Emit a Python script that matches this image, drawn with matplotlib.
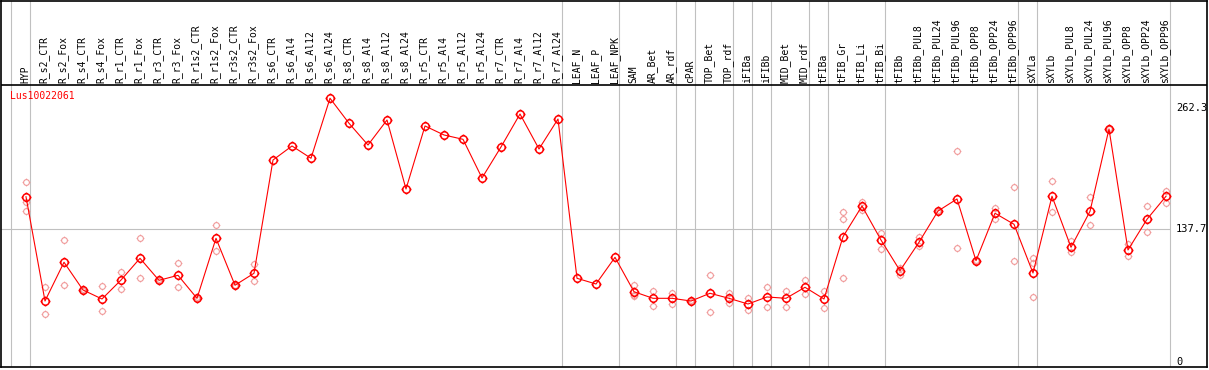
import numpy as np
import matplotlib
matplotlib.use('Agg')
import matplotlib.pyplot as plt
from matplotlib.path import Path

gene = 'Lus10022061'

samples = ['HYP', 'R_s2_CTR', 'R_s2_Fox', 'R_s4_CTR', 'R_s4_Fox', 'R_r1_CTR', 'R_r1_Fox',
           'R_r3_CTR', 'R_r3_Fox', 'R_r1s2_CTR', 'R_r1s2_Fox', 'R_r3s2_CTR', 'R_r3s2_Fox',
           'R_s6_CTR', 'R_s6_Al4', 'R_s6_Al12', 'R_s6_Al24', 'R_s8_CTR', 'R_s8_Al4',
           'R_s8_Al12', 'R_s8_Al24', 'R_r5_CTR', 'R_r5_Al4', 'R_r5_Al12', 'R_r5_Al24',
           'R_r7_CTR', 'R_r7_Al4', 'R_r7_Al12', 'R_r7_Al24', 'LEAF_N', 'LEAF_P', 'LEAF_NPK',
           'SAM', 'AR_Bet', 'AR_rdf', 'cPAR', 'TOP_Bet', 'TOP_rdf', 'iFIBa', 'iFIBb',
           'MID_Bet', 'MID_rdf', 'tFIBa', 'tFIB_Gr', 'tFIB_Li', 'tFIB_Bi', 'tFIBb',
           'tFIBb_PUL8', 'tFIBb_PUL24', 'tFIBb_PUL96', 'tFIBb_OPP8', 'tFIBb_OPP24',
           'tFIBb_OPP96', 'sXYLa', 'sXYLb', 'sXYLb_PUL8', 'sXYLb_PUL24', 'sXYLb_PUL96',
           'sXYLb_OPP8', 'sXYLb_OPP24', 'sXYLb_OPP96']

# mean expression per sample
means = [171.0, 63.1, 103.2, 74.5, 65.2, 84.8, 107.3, 84.5, 89.7, 65.9, 128.0, 79.4, 91.8,
         209.0, 223.5, 210.8, 272.9, 247.0, 224.5, 250.4, 179.0, 244.2, 234.9, 230.4, 190.4,
         222.5, 256.6, 220.4, 251.4, 86.6, 80.7, 108.3,
         72.7, 65.9, 65.9, 63.1, 71.1, 65.9, 60.0, 67.3, 65.9, 77.3, 65.2,
         129.6, 161.4, 126.2, 94.5, 123.9, 156.2, 168.7, 104.8, 153.9, 142.5,
         92.1, 171.5, 118.7, 155.9, 241.1, 115.9, 147.7, 171.5]

# replicate values per sample (empty where only the mean is known)
reps = [[186.6, 165.9, 156.2], [77.6, 49.7], [126.2, 79.7], [73.5, 75.5], [78.6, 52.5],
        [93.1, 75.2], [128.0, 86.6], [83.5, 85.5], [102.1, 77.6], [65.0, 66.8],
        [141.4, 115.2], [78.9, 79.9], [101.4, 83.8],
        [], [], [], [], [], [], [], [], [], [], [], [], [], [], [], [],
        [], [], [],
        [79.7, 69.8, 68.6], [73.5, 58.3], [71.7, 59.7], [64.6, 61.6], [89.7, 51.4],
        [71.7, 61.4], [66.5, 53.8], [77.3, 56.6], [73.5, 57.2], [84.8, 70.4], [73.8, 55.6],
        [155.5, 147.7, 87.2], [165.9, 157.3], [133.2, 116.6], [97.0, 90.0],
        [129.0, 120.3], [155.5, 157.0], [218.3, 117.6], [104.3, 105.3], [159.7, 147.7],
        [180.8, 104.2],
        [107.3, 102.0, 66.9], [187.3, 154.9], [125.2, 113.5], [170.7, 141.4],
        [241.6, 240.6], [121.8, 110.0], [161.4, 134.2], [176.9, 164.8]]

# number of samples in each tissue group (separated by grey lines)
groups = [1, 28, 3, 3, 1, 2, 1, 1, 2, 1, 3, 7, 1, 7]

ytick_vals = [0, 137.7, 262.3]
ref_line = 137.7


def ring_marker(t=1.35):
    """ circle with four small ticks around it """
    parts = [Path.unit_circle()]
    for dx, dy in [(1, 0), (-1, 0), (0, 1), (0, -1)]:
        parts.append(Path([(dx, dy), (dx * t, dy * t)], [Path.MOVETO, Path.LINETO]))
    return Path.make_compound_path(*parts)


def main():
    W, H = 1209, 370
    fig = plt.figure(figsize=(W / 100, H / 100), dpi=100)
    ax = fig.add_axes([1 / W, 3 / H, 1206 / W, 366.5 / H])

    # => pixel geometry of the original chart
    step, x0 = 19.0, 26.0
    y0_px, px_per_unit = 362.0, 0.9665
    ax.set_xlim((1 - x0) / step, (1207 - x0) / step)
    ax.set_ylim((y0_px - 367) / px_per_unit, (y0_px - 0.5) / px_per_unit)
    header = (y0_px - 85) / px_per_unit

    x = np.arange(len(samples))

    # => group separators
    bounds = np.concatenate(([0], np.cumsum(groups))) - 1 + 4 / step
    for b in bounds:
        ax.axvline(b, color='#c0c0c0', lw=0.8, zorder=1)
    ax.hlines(ref_line, ax.get_xlim()[0], bounds[-1], color='#c0c0c0', lw=0.8, zorder=1)
    ax.axhline(header, color='black', lw=1.2, zorder=3)

    # => replicates
    mk = ring_marker()
    rx = [i for i, r in enumerate(reps) for _ in r]
    ry = [v for r in reps for v in r]
    ax.plot(rx, ry, ls='none', marker=mk, ms=5.6, mfc='none', mec='#f09a9a', mew=0.8, zorder=2)

    # => means
    ax.plot(x, means, color='red', lw=0.8, marker=mk, ms=7.2, mfc='none', mec='red',
            mew=1.1, zorder=4)

    # => sample labels
    for i, s in enumerate(samples):
        ax.annotate(s, (i - 0.05, header), xytext=(0, 2), textcoords='offset pixels',
                    rotation=90, ha='center', va='bottom', family='DejaVu Sans Mono',
                    fontsize=7, color='black')

    ax.annotate(gene, (0, header), xycoords=('axes fraction', 'data'), xytext=(9, -6),
                textcoords='offset pixels', ha='left', va='top', family='DejaVu Sans Mono',
                fontsize=7, color='red')

    for v in ytick_vals:
        ax.annotate('%g' % v, (bounds[-1], v), xytext=(6, 0), textcoords='offset pixels',
                    ha='left', va='center', family='DejaVu Sans Mono', fontsize=7.5,
                    color='black')

    ax.set_xticks([])
    ax.set_yticks([])
    for sp in ax.spines.values():
        sp.set_linewidth(1.2)

    fig.savefig('out.png', dpi=100)


main()
